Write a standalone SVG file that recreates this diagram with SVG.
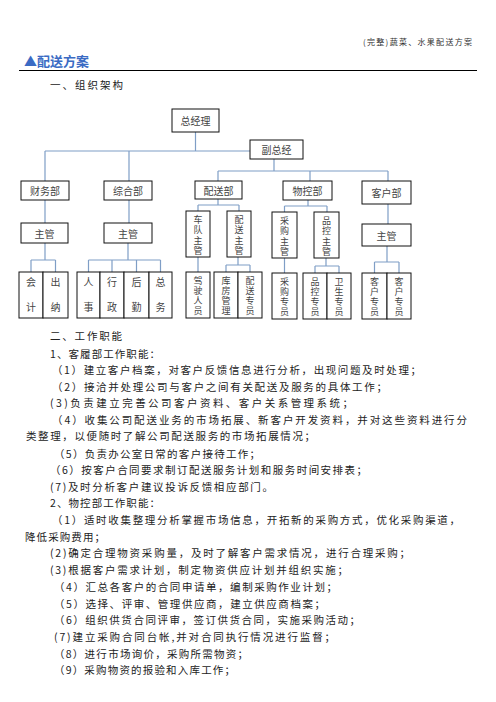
<svg xmlns="http://www.w3.org/2000/svg" width="496" height="702" viewBox="0 0 496 702">
<style>
.bx{fill:#fff;stroke:#111;stroke-width:1}
.lb{font-family:"Noto Sans CJK SC","Noto Sans",sans-serif;font-size:10px;fill:#444;text-anchor:middle;dominant-baseline:central}
.vl{font-family:"Noto Sans CJK SC","Noto Sans",sans-serif;font-size:9px;fill:#444;writing-mode:vertical-rl;text-orientation:upright;letter-spacing:1.5px}
.vs{letter-spacing:1px}
.v2{font-family:"Noto Sans CJK SC","Noto Sans",sans-serif;font-size:10px;fill:#444;writing-mode:vertical-rl;text-orientation:upright;letter-spacing:15px}
.cn{fill:none;stroke:#7F9EC6;stroke-width:1.2}
.bd{font-family:"Noto Sans CJK SC","Noto Sans",sans-serif;font-size:10.5px;fill:#222;dominant-baseline:central}
</style>
<rect width="496" height="702" fill="#fff"/>
<text x="472" y="41" text-anchor="end" style="font-family:'Noto Sans CJK SC',sans-serif;font-size:8px;fill:#333;dominant-baseline:central" textLength="109" lengthAdjust="spacing">(完整)蔬菜、水果配送方案</text>
<text x="24" y="60" style="font-family:'Noto Sans CJK SC',sans-serif;font-size:13px;font-weight:bold;fill:#3A6BC4;dominant-baseline:central">▲配送方案</text>
<line x1="19" y1="70.5" x2="477" y2="70.5" stroke="#000" stroke-width="1"/>
<text x="50" y="84" class="bd" textLength="73" lengthAdjust="spacing">一、组织架构</text>

<g id="connectors">
<path class="cn" d="M195.5 132V151M45 151H250M45 151V181M129 151V181"/>
<path class="cn" d="M274 159V171M218 171H388M218 171V181M310 171V181M388 171V181"/>
<path class="cn" d="M45 200V223M129 200V223M388 204V224"/>
<path class="cn" d="M45 243V260M31 260H55.5M31 260V272M55.5 260V272"/>
<path class="cn" d="M128 243V260M88.5 260H160.5M88.5 260V272M112 260V272M136.5 260V272M160.5 260V272"/>
<path class="cn" d="M218 199V205M198 205H239M198 205V211M239 205V211"/>
<path class="cn" d="M198 257V272M238 257V265M226 265H250M226 265V272M250 265V272"/>
<path class="cn" d="M308 200V206M284.5 206H327M284.5 206V212M327 206V212"/>
<path class="cn" d="M284.5 258V273M326 258V266M315 266H339M315 266V273M339 266V273"/>
<path class="cn" d="M387 246V262M374.5 262H399M374.5 262V273M399 262V273"/>
</g>

<g id="n-zjl"><rect class="bx" x="172" y="109" width="47" height="23"/><text class="lb" x="195.5" y="120.5">总经理</text></g>
<g id="n-fzj"><rect class="bx" x="250" y="140" width="53" height="19"/><text class="lb" x="276.5" y="149.5">副总经</text></g>
<g id="n-cwb"><rect class="bx" x="21" y="181" width="48" height="19"/><text class="lb" x="45" y="190.5">财务部</text></g>
<g id="n-zhb"><rect class="bx" x="104" y="181" width="48" height="19"/><text class="lb" x="128" y="190.5">综合部</text></g>
<g id="n-psb"><rect class="bx" x="195" y="181" width="47" height="18"/><text class="lb" x="218.5" y="190">配送部</text></g>
<g id="n-wkb"><rect class="bx" x="283" y="181" width="49" height="19"/><text class="lb" x="307.5" y="190.5">物控部</text></g>
<g id="n-khb"><rect class="bx" x="362" y="181" width="49" height="23"/><text class="lb" x="386.5" y="192.5">客户部</text></g>

<g id="n-zg1"><rect class="bx" x="21" y="223" width="47" height="20"/><text class="lb" x="44.5" y="233">主管</text></g>
<g id="n-zg2"><rect class="bx" x="104" y="223" width="48" height="20"/><text class="lb" x="128" y="233">主管</text></g>
<g id="n-zg3"><rect class="bx" x="362" y="224" width="49" height="22"/><text class="lb" x="386.5" y="235">主管</text></g>

<g id="n-cdzg"><rect class="bx" x="186" y="211" width="24" height="46"/><text class="vl" x="198" y="215">车队主管</text></g>
<g id="n-pszg"><rect class="bx" x="227" y="211" width="24" height="46"/><text class="vl" x="239" y="215">配送主管</text></g>
<g id="n-cgzg"><rect class="bx" x="272" y="212" width="25" height="46"/><text class="vl" x="284.5" y="216">采购主管</text></g>
<g id="n-pkzg"><rect class="bx" x="314" y="212" width="25" height="46"/><text class="vl" x="326.5" y="216">品控主管</text></g>

<g id="n-kj"><rect class="bx" x="19" y="272" width="24" height="46"/><text class="v2" x="31" y="277">会计</text></g>
<g id="n-cn"><rect class="bx" x="43" y="272" width="25" height="46"/><text class="v2" x="55.5" y="277">出纳</text></g>
<g id="n-rs"><rect class="bx" x="77" y="272" width="23" height="46"/><text class="v2" x="88.5" y="277">人事</text></g>
<g id="n-xz"><rect class="bx" x="100" y="272" width="24" height="46"/><text class="v2" x="112" y="277">行政</text></g>
<g id="n-hq"><rect class="bx" x="124" y="272" width="25" height="46"/><text class="v2" x="136.5" y="277">后勤</text></g>
<g id="n-zw"><rect class="bx" x="149" y="272" width="23" height="46"/><text class="v2" x="160.5" y="277">总务</text></g>

<g id="n-jsry"><rect class="bx" x="186" y="272" width="24" height="46"/><text class="vl vs" x="198" y="276">驾驶人员</text></g>
<g id="n-kfgl"><rect class="bx" x="214" y="272" width="24" height="46"/><text class="vl vs" x="226" y="276">库房管理</text></g>
<g id="n-pszy"><rect class="bx" x="238" y="272" width="24" height="46"/><text class="vl vs" x="250" y="276">配送专员</text></g>
<g id="n-cgzy"><rect class="bx" x="272" y="273" width="25" height="46"/><text class="vl vs" x="284.5" y="277">采购专员</text></g>
<g id="n-pkzy"><rect class="bx" x="303" y="273" width="24" height="46"/><text class="vl vs" x="315" y="277">品控专员</text></g>
<g id="n-wszy"><rect class="bx" x="327" y="273" width="24" height="46"/><text class="vl vs" x="339" y="277">卫生专员</text></g>
<g id="n-khzy1"><rect class="bx" x="362" y="273" width="25" height="46"/><text class="vl vs" x="374.5" y="277">客户专员</text></g>
<g id="n-khzy2"><rect class="bx" x="387" y="273" width="24" height="46"/><text class="vl vs" x="399" y="277">客户专员</text></g>

<g id="body">
<text class="bd" x="50" y="335" textLength="72" lengthAdjust="spacing">二、工作职能</text>
<text class="bd" x="50" y="353" textLength="110" lengthAdjust="spacing">1、客履部工作职能：</text>
<text class="bd" x="52" y="369" textLength="369" lengthAdjust="spacing">（1）建立客户档案，对客户反馈信息进行分析，出现问题及时处理；</text>
<text class="bd" x="52" y="386" textLength="335" lengthAdjust="spacing">（2）接洽并处理公司与客户之间有关配送及服务的具体工作；</text>
<text class="bd" x="50" y="402" textLength="303" lengthAdjust="spacing">(3)负责建立完善公司客户资料、客户关系管理系统；</text>
<text class="bd" x="52" y="419" textLength="415" lengthAdjust="spacing">（4）收集公司配送业务的市场拓展、新客户开发资料，并对这些资料进行分</text>
<text class="bd" x="26" y="435" textLength="289" lengthAdjust="spacing">类整理，以便随时了解公司配送服务的市场拓展情况；</text>
<text class="bd" x="54" y="453" textLength="206" lengthAdjust="spacing">（5）负责办公室日常的客户接待工作；</text>
<text class="bd" x="50" y="469" textLength="317" lengthAdjust="spacing">（6）按客户合同要求制订配送服务计划和服务时间安排表；</text>
<text class="bd" x="50" y="486" textLength="223" lengthAdjust="spacing">(7)及时分析客户建议投诉反馈相应部门。</text>
<text class="bd" x="50" y="502" textLength="110" lengthAdjust="spacing">2、物控部工作职能：</text>
<text class="bd" x="52" y="519" textLength="408" lengthAdjust="spacing">（1）适时收集整理分析掌握市场信息，开拓新的采购方式，优化采购渠道，</text>
<text class="bd" x="25" y="536" textLength="80" lengthAdjust="spacing">降低采购费用；</text>
<text class="bd" x="50" y="552" textLength="360" lengthAdjust="spacing">(2)确定合理物资采购量，及时了解客户需求情况，进行合理采购；</text>
<text class="bd" x="50" y="569" textLength="298" lengthAdjust="spacing">(3)根据客户需求计划，制定物资供应计划并组织实施；</text>
<text class="bd" x="54" y="586" textLength="283" lengthAdjust="spacing">（4）汇总各客户的合同申请单，编制采购作业计划；</text>
<text class="bd" x="54" y="603" textLength="271" lengthAdjust="spacing">（5）选择、评审、管理供应商，建立供应商档案；</text>
<text class="bd" x="54" y="619" textLength="306" lengthAdjust="spacing">（6）组织供货合同评审，签订供货合同，实施采购活动；</text>
<text class="bd" x="54" y="636" textLength="281" lengthAdjust="spacing">(7)建立采购合同台帐,并对合同执行情况进行监督；</text>
<text class="bd" x="54" y="653" textLength="194" lengthAdjust="spacing">（8）进行市场询价，采购所需物资；</text>
<text class="bd" x="54" y="669" textLength="181" lengthAdjust="spacing">（9）采购物资的报验和入库工作；</text>
</g>
</svg>
